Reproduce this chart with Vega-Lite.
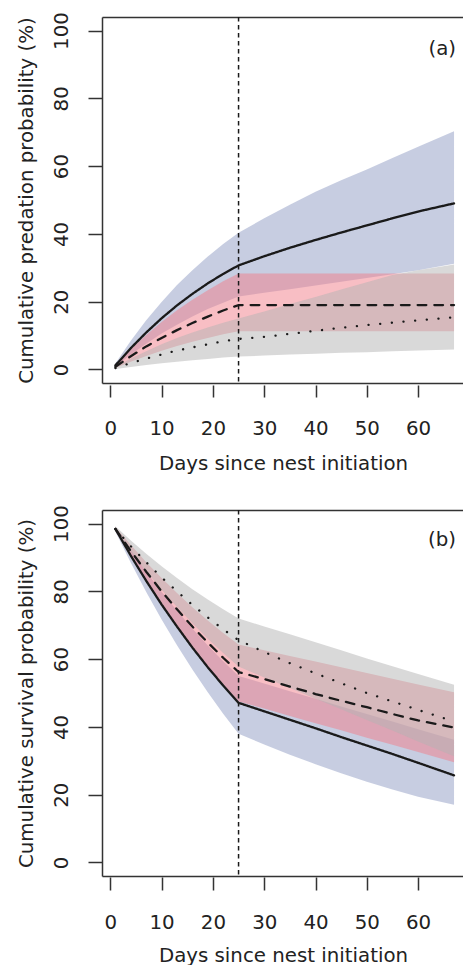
{
  "$schema": "https://vega.github.io/schema/vega-lite/v6.json",
  "padding": {"left": 16, "top": 11, "right": 0, "bottom": 0},
  "spacing": 127,
  "bounds": "flush",
  "config": {
    "font": "DejaVu Sans",
    "view": {"stroke": null},
    "axis": {"grid": false, "domainColor": "#333", "domainWidth": 1.5, "tickColor": "#333", "tickWidth": 1.5, "labelFontSize": 19.8, "labelColor": "#222", "titleFontSize": 19.8, "titleFontWeight": "normal", "titleColor": "#222", "labelFlush": false, "labelOverlap": false}
  },
  "datasets": {
    "a": [
      {"g":"solid","t":1,"est":1.2,"lo":0.8,"hi":1.8},{"g":"solid","t":4,"est":6.3,"lo":4.4,"hi":8.5},{"g":"solid","t":7,"est":10.9,"lo":7.6,"hi":14.5},{"g":"solid","t":10,"est":15.1,"lo":10.6,"hi":19.9},{"g":"solid","t":13,"est":18.9,"lo":13.2,"hi":24.9},{"g":"solid","t":16,"est":22.3,"lo":15.6,"hi":29.3},{"g":"solid","t":19,"est":25.4,"lo":17.8,"hi":33.3},{"g":"solid","t":22,"est":28.2,"lo":19.7,"hi":37.0},{"g":"solid","t":25,"est":30.7,"lo":21.5,"hi":40.3},{"g":"solid","t":30,"est":33.4,"lo":22.6,"hi":44.6},{"g":"solid","t":35,"est":35.9,"lo":23.7,"hi":48.6},{"g":"solid","t":40,"est":38.2,"lo":24.8,"hi":52.4},{"g":"solid","t":45,"est":40.4,"lo":25.9,"hi":55.8},{"g":"solid","t":50,"est":42.5,"lo":27.0,"hi":59.0},{"g":"solid","t":55,"est":44.6,"lo":28.1,"hi":62.4},{"g":"solid","t":60,"est":46.6,"lo":29.3,"hi":65.7},{"g":"solid","t":67,"est":49.0,"lo":31.2,"hi":70.3},
      {"g":"dashed","t":1,"est":0.8,"lo":0.4,"hi":1.3},{"g":"dashed","t":4,"est":3.9,"lo":2.3,"hi":6.0},{"g":"dashed","t":7,"est":6.8,"lo":4.0,"hi":10.2},{"g":"dashed","t":10,"est":9.3,"lo":5.5,"hi":14.0},{"g":"dashed","t":13,"est":11.6,"lo":6.9,"hi":17.5},{"g":"dashed","t":16,"est":13.7,"lo":8.2,"hi":20.6},{"g":"dashed","t":19,"est":15.6,"lo":9.3,"hi":23.4},{"g":"dashed","t":22,"est":17.4,"lo":10.4,"hi":26.0},{"g":"dashed","t":25,"est":19.0,"lo":11.3,"hi":28.3},{"g":"dashed","t":35,"est":19.0,"lo":11.3,"hi":28.3},{"g":"dashed","t":45,"est":19.0,"lo":11.3,"hi":28.3},{"g":"dashed","t":55,"est":19.0,"lo":11.3,"hi":28.3},{"g":"dashed","t":67,"est":19.0,"lo":11.3,"hi":28.3},
      {"g":"dotted","t":1,"est":0.4,"lo":0.1,"hi":0.7},{"g":"dotted","t":4,"est":1.9,"lo":0.7,"hi":3.2},{"g":"dotted","t":7,"est":3.2,"lo":1.3,"hi":5.4},{"g":"dotted","t":10,"est":4.4,"lo":1.8,"hi":7.4},{"g":"dotted","t":13,"est":5.6,"lo":2.3,"hi":9.3},{"g":"dotted","t":16,"est":6.5,"lo":2.7,"hi":10.9},{"g":"dotted","t":19,"est":7.4,"lo":3.1,"hi":12.4},{"g":"dotted","t":22,"est":8.3,"lo":3.5,"hi":13.8},{"g":"dotted","t":25,"est":9.0,"lo":3.8,"hi":15.0},{"g":"dotted","t":30,"est":9.6,"lo":4.1,"hi":17.1},{"g":"dotted","t":35,"est":10.5,"lo":4.4,"hi":19.3},{"g":"dotted","t":40,"est":11.4,"lo":4.6,"hi":21.4},{"g":"dotted","t":45,"est":12.3,"lo":4.9,"hi":23.6},{"g":"dotted","t":50,"est":13.1,"lo":5.1,"hi":25.7},{"g":"dotted","t":55,"est":13.8,"lo":5.4,"hi":27.9},{"g":"dotted","t":60,"est":14.5,"lo":5.6,"hi":29.3},{"g":"dotted","t":67,"est":15.4,"lo":5.9,"hi":31.0}
    ],
    "b": [
      {"g":"solid","t":1,"est":98.4,"lo":97.6,"hi":99.0},{"g":"solid","t":4,"est":90.5,"lo":88.4,"hi":92.2},{"g":"solid","t":7,"est":83.1,"lo":79.8,"hi":85.8},{"g":"solid","t":10,"est":76.1,"lo":71.7,"hi":79.9},{"g":"solid","t":13,"est":69.6,"lo":64.1,"hi":74.3},{"g":"solid","t":16,"est":63.4,"lo":56.9,"hi":69.0},{"g":"solid","t":19,"est":57.6,"lo":50.2,"hi":64.0},{"g":"solid","t":22,"est":52.2,"lo":43.9,"hi":59.4},{"g":"solid","t":25,"est":47.1,"lo":38.0,"hi":55.0},{"g":"solid","t":30,"est":44.6,"lo":34.8,"hi":52.8},{"g":"solid","t":35,"est":42.1,"lo":31.8,"hi":50.5},{"g":"solid","t":40,"est":39.6,"lo":29.0,"hi":48.3},{"g":"solid","t":45,"est":37.0,"lo":26.3,"hi":46.0},{"g":"solid","t":50,"est":34.5,"lo":23.8,"hi":43.8},{"g":"solid","t":55,"est":32.0,"lo":21.5,"hi":41.6},{"g":"solid","t":60,"est":29.4,"lo":19.4,"hi":39.3},{"g":"solid","t":67,"est":25.7,"lo":17.0,"hi":36.2},
      {"g":"dashed","t":1,"est":98.4,"lo":97.8,"hi":99.0},{"g":"dashed","t":4,"est":91.9,"lo":90.1,"hi":93.7},{"g":"dashed","t":7,"est":85.8,"lo":82.8,"hi":88.6},{"g":"dashed","t":10,"est":80.0,"lo":75.9,"hi":83.9},{"g":"dashed","t":13,"est":74.7,"lo":69.5,"hi":79.5},{"g":"dashed","t":16,"est":69.6,"lo":63.5,"hi":75.3},{"g":"dashed","t":19,"est":64.9,"lo":57.8,"hi":71.4},{"g":"dashed","t":22,"est":60.4,"lo":52.5,"hi":67.7},{"g":"dashed","t":25,"est":56.2,"lo":47.5,"hi":64.3},{"g":"dashed","t":30,"est":54.1,"lo":45.4,"hi":62.6},{"g":"dashed","t":35,"est":51.9,"lo":43.2,"hi":60.9},{"g":"dashed","t":40,"est":49.7,"lo":41.1,"hi":59.3},{"g":"dashed","t":45,"est":47.7,"lo":39.0,"hi":57.6},{"g":"dashed","t":50,"est":45.8,"lo":36.8,"hi":55.9},{"g":"dashed","t":55,"est":43.8,"lo":34.7,"hi":54.2},{"g":"dashed","t":60,"est":41.9,"lo":32.6,"hi":52.5},{"g":"dashed","t":67,"est":39.8,"lo":29.6,"hi":50.2},
      {"g":"dotted","t":1,"est":98.4,"lo":97.9,"hi":99.2},{"g":"dotted","t":4,"est":93.3,"lo":91.7,"hi":95.0},{"g":"dotted","t":7,"est":88.6,"lo":85.9,"hi":91.1},{"g":"dotted","t":10,"est":84.1,"lo":80.5,"hi":87.4},{"g":"dotted","t":13,"est":80.0,"lo":75.4,"hi":83.9},{"g":"dotted","t":16,"est":76.0,"lo":70.6,"hi":80.6},{"g":"dotted","t":19,"est":72.3,"lo":66.0,"hi":77.6},{"g":"dotted","t":22,"est":68.8,"lo":61.8,"hi":74.7},{"g":"dotted","t":25,"est":65.6,"lo":57.8,"hi":72.0},{"g":"dotted","t":30,"est":62.1,"lo":54.6,"hi":69.6},{"g":"dotted","t":35,"est":58.8,"lo":51.5,"hi":67.3},{"g":"dotted","t":40,"est":55.8,"lo":48.3,"hi":65.0},{"g":"dotted","t":45,"est":52.9,"lo":45.2,"hi":62.6},{"g":"dotted","t":50,"est":50.0,"lo":42.0,"hi":60.2},{"g":"dotted","t":55,"est":47.5,"lo":38.9,"hi":57.9},{"g":"dotted","t":60,"est":45.0,"lo":35.7,"hi":55.6},{"g":"dotted","t":67,"est":41.6,"lo":31.3,"hi":52.4}
    ]
  },
  "vconcat": [
    {
      "width": 361, "height": 366,
      "data": {"name": "a"},
      "resolve": {"axis": {"x": "independent"}},
      "layer": [
        {
          "mark": {"type": "area", "opacity": 0.5},
          "encoding": {
            "x": {"field": "t", "type": "quantitative", "scale": {"domain": [-1.62, 68.75], "nice": false, "zero": false},
                  "axis": {"orient": "bottom", "values": [0,10,20,30,40,50,60], "title": "Days since nest initiation", "tickSize": 14, "tickDash": [0,2,12,100], "labelPadding": 37, "labelBaseline": "alphabetic", "titleBaseline": "alphabetic", "titleX": 181, "titleY": 86}},
            "y": {"field": "lo", "type": "quantitative", "stack": null, "scale": {"domain": [-4, 104], "nice": false, "zero": false},
                  "axis": {"values": [0,20,40,60,80,100], "title": "Cumulative predation probability (%)", "tickSize": 14, "labelAngle": -90, "labelAlign": "center", "labelBaseline": "alphabetic", "labelPadding": 20.7, "titleAngle": -90, "titleAlign": "center", "titleBaseline": "alphabetic", "titleX": -69.7, "titleY": 183}},
            "y2": {"field": "hi"},
            "color": {"field": "g", "type": "nominal", "scale": {"domain": ["solid","dashed","dotted"], "range": ["#8f9bc3","#f17d89","#b3b3b3"]}, "legend": null}
          }
        },
        {
          "mark": {"type": "line", "strokeCap": "round", "color": "#1a1a1a"},
          "encoding": {
            "x": {"field": "t", "type": "quantitative", "axis": {"orient": "top", "labels": false, "ticks": false, "title": null, "domain": true}},
            "y": {"field": "est", "type": "quantitative", "axis": {"title": "Cumulative predation probability (%)"}},
            "strokeDash": {"field": "g", "type": "nominal", "scale": {"domain": ["solid","dashed","dotted"], "range": [[1,0],[8.7,8],[0.1,11.6]]}, "legend": null},
            "strokeWidth": {"field": "g", "type": "nominal", "scale": {"domain": ["solid","dashed","dotted"], "range": [2.3,2.3,3.8]}, "legend": null}
          }
        },
        {
          "data": {"values": [{}]},
          "mark": {"type": "rule", "strokeDash": [4.5,3.5], "strokeWidth": 1.5, "color": "#1a1a1a"},
          "encoding": {"x": {"datum": 25, "axis": null}}
        },
        {
          "data": {"values": [{}]},
          "mark": {"type": "text", "text": "(a)", "align": "right", "baseline": "middle", "fontSize": 19.8, "color": "#222"},
          "encoding": {"x": {"datum": 67.4, "axis": null}, "y": {"datum": 94.5}}
        }
      ]
    },
    {
      "width": 361, "height": 366,
      "data": {"name": "b"},
      "resolve": {"axis": {"x": "independent"}},
      "layer": [
        {
          "mark": {"type": "area", "opacity": 0.5},
          "encoding": {
            "x": {"field": "t", "type": "quantitative", "scale": {"domain": [-1.62, 68.75], "nice": false, "zero": false},
                  "axis": {"orient": "bottom", "values": [0,10,20,30,40,50,60], "title": "Days since nest initiation", "tickSize": 14, "tickDash": [0,1,13,100], "labelPadding": 38, "labelBaseline": "alphabetic", "titleBaseline": "alphabetic", "titleX": 181, "titleY": 85}},
            "y": {"field": "lo", "type": "quantitative", "stack": null, "scale": {"domain": [-4, 104], "nice": false, "zero": false},
                  "axis": {"values": [0,20,40,60,80,100], "title": "Cumulative survival probability (%)", "tickSize": 14, "labelAngle": -90, "labelAlign": "center", "labelBaseline": "alphabetic", "labelPadding": 20.7, "titleAngle": -90, "titleAlign": "center", "titleBaseline": "alphabetic", "titleX": -69.7, "titleY": 183}},
            "y2": {"field": "hi"},
            "color": {"field": "g", "type": "nominal", "scale": {"domain": ["solid","dashed","dotted"], "range": ["#8f9bc3","#f17d89","#b3b3b3"]}, "legend": null}
          }
        },
        {
          "mark": {"type": "line", "strokeCap": "round", "color": "#1a1a1a"},
          "encoding": {
            "x": {"field": "t", "type": "quantitative", "axis": {"orient": "top", "labels": false, "ticks": false, "title": null, "domain": true}},
            "y": {"field": "est", "type": "quantitative", "axis": {"title": "Cumulative survival probability (%)"}},
            "strokeDash": {"field": "g", "type": "nominal", "scale": {"domain": ["solid","dashed","dotted"], "range": [[1,0],[8.7,8],[0.1,11.6]]}, "legend": null},
            "strokeWidth": {"field": "g", "type": "nominal", "scale": {"domain": ["solid","dashed","dotted"], "range": [2.3,2.3,3.8]}, "legend": null}
          }
        },
        {
          "data": {"values": [{}]},
          "mark": {"type": "rule", "strokeDash": [4.5,3.5], "strokeWidth": 1.5, "color": "#1a1a1a"},
          "encoding": {"x": {"datum": 25, "axis": null}}
        },
        {
          "data": {"values": [{}]},
          "mark": {"type": "text", "text": "(b)", "align": "right", "baseline": "middle", "fontSize": 19.8, "color": "#222"},
          "encoding": {"x": {"datum": 67.4, "axis": null}, "y": {"datum": 95.2}}
        }
      ]
    }
  ]
}
